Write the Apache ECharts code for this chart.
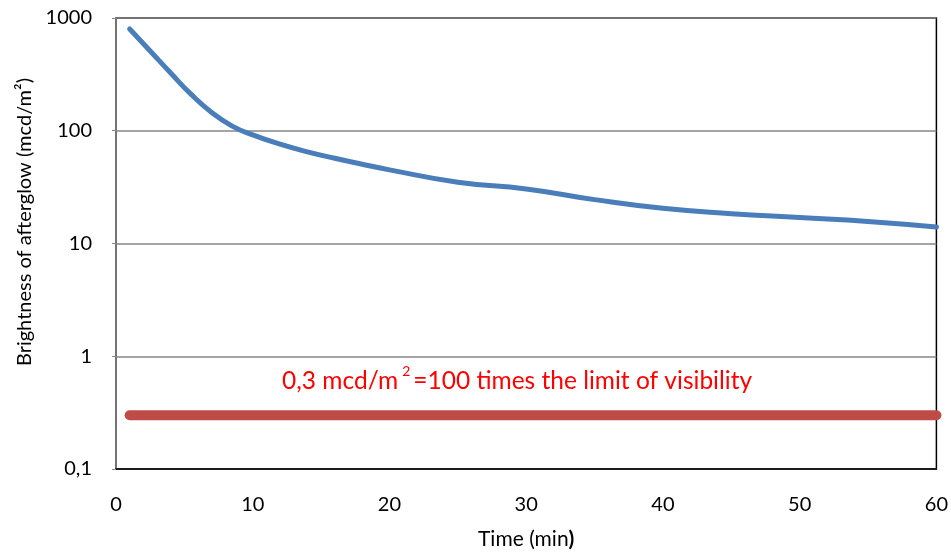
<!DOCTYPE html>
<html><head><meta charset="utf-8">
<script src="https://cdn.jsdelivr.net/npm/echarts@6/dist/echarts.min.js"></script>
<style>html,body{margin:0;padding:0;background:#fff}#c{width:951px;height:555px}</style>
</head><body><div id="c"></div>
<script>
const times = [1, 2.5, 4, 5.5, 7, 8.5, 10, 12, 14, 16, 18, 20, 25, 30, 35, 40, 45, 50, 55, 60];
const brightness = [800, 510, 325, 210, 145, 110, 92, 76, 65, 57, 50.5, 45, 35, 30.5, 24.5, 20.5, 18.4, 17, 15.7, 14];
const limitTimes = [1, 60];
const limitValues = [0.3, 0.3];
const xTicks = [0, 10, 20, 30, 40, 50, 60];
const yTicks = ['0,1', '1', '10', '100', '1000'];
const FONT = 'Lato';

const chart = echarts.init(document.getElementById('c'), null, {renderer: 'canvas'});
chart.setOption({
  animation: false,
  backgroundColor: '#fff',
  textStyle: {fontFamily: FONT},
  grid: {left: 116, right: 13, top: 18, bottom: 83, show: true, borderColor: '#000', borderWidth: 1.5, backgroundColor: 'transparent'},
  xAxis: {
    type: 'value', min: 0, max: 60, interval: 10,
    axisLine: {lineStyle: {color: '#000', width: 1.5}},
    axisTick: {show: false},
    splitLine: {show: false},
    axisLabel: {color: '#000', fontSize: 20, fontFamily: FONT, margin: 26,
      formatter: v => xTicks.includes(v) ? String(v) : ''},
    name: '{n|Time (min}{b|)}', nameLocation: 'middle', nameGap: 60,
    nameTextStyle: {rich: {n: {fontSize: 21, color: '#000', fontFamily: FONT}, b: {fontSize: 21, color: '#000', fontWeight: 'bold', fontFamily: FONT}}}
  },
  yAxis: {
    type: 'log', logBase: 10, min: 0.1, max: 1000,
    axisLine: {show: true, lineStyle: {color: '#868686', width: 1.5}},
    axisTick: {show: true, inside: false, length: 4, lineStyle: {color: '#868686'}},
    splitLine: {show: true, lineStyle: {color: '#868686', width: 1.5}},
    minorTick: {show: false}, minorSplitLine: {show: false},
    axisLabel: {color: '#000', fontSize: 20, fontFamily: FONT, margin: 24,
      formatter: v => { const idx = Math.round(Math.log10(v)) + 1; return yTicks[idx] !== undefined ? yTicks[idx] : ''; }}
  },
  graphic: [
    {type: 'text', x: 25, y: 222, rotation: Math.PI / 2,
      style: {text: 'Brightness of afterglow (mcd/m²)', fontSize: 20, fontFamily: FONT, fill: '#000', align: 'center', verticalAlign: 'middle'}},
    {type: 'text', x: 282, y: 381,
      style: {text: '{a|0,3 mcd/m}{s|2}{a|=100 times the limit of visibility}', fontFamily: FONT, verticalAlign: 'middle',
        rich: {a: {fontSize: 24.5, fill: '#ff0000', fontFamily: FONT, lineHeight: 34},
               s: {fontSize: 14, fill: '#ff0000', fontFamily: FONT, verticalAlign: 'top', lineHeight: 34, padding: [0, 3, 24, 4]}}}}
  ],
  series: [
    {type: 'line', data: times.map((t, i) => [t, brightness[i]]), smooth: 0.5, showSymbol: false,
      lineStyle: {color: '#4a7ebb', width: 5, cap: 'round'}, z: 3},
    {type: 'line', data: limitTimes.map((t, i) => [t, limitValues[i]]), showSymbol: false,
      lineStyle: {color: '#be4b48', width: 10, cap: 'round'}, z: 2}
  ]
});
</script></body></html>
